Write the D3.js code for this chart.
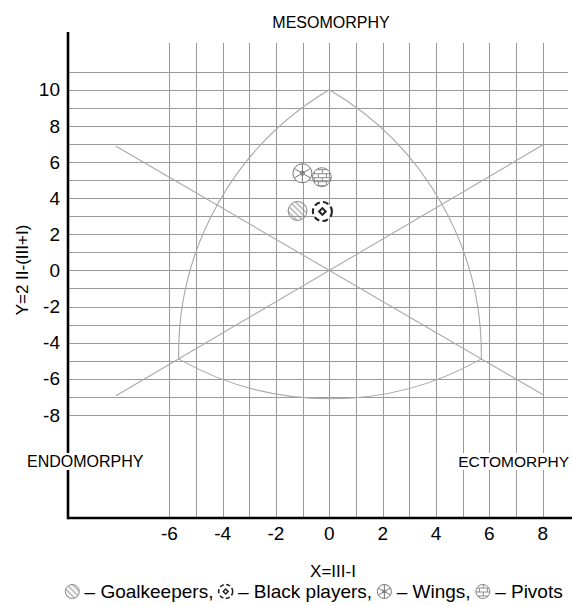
<!DOCTYPE html>
<html>
<head>
<meta charset="utf-8">
<script src="https://cdn.jsdelivr.net/npm/d3@7"></script>
<style>
  body { margin: 0; background: #fff; }
  svg { display: block; font-family: "Liberation Sans", Arial, sans-serif; }
</style>
</head>
<body>
<div id="chart"></div>
<script>
// Data
const groups = ["Goalkeepers", "Black players", "Wings", "Pivots"];
const xValues = [-1.19, -0.26, -1.01, -0.28];
const yValues = [3.29, 3.26, 5.38, 5.16];
const xTickLabels = [-6, -4, -2, 0, 2, 4, 6, 8];
const yTickLabels = [10, 8, 6, 4, 2, 0, -2, -4, -6, -8];
const apex = [0, 10];
const endoVertex = [-5.65, -4.9];
const ectoVertex = [5.7, -4.9];

// Configuration
const W = 572, H = 606;
const x = d3.scaleLinear().domain([-9.8, 9.1]).range([68, 572]);
const y = d3.scaleLinear().domain([-13.71, 13.2]).range([518, 32]);
const gridColor = "#9a9a9a";
const lineColor = "#a8a8a8";

const svg = d3.select("#chart").append("svg")
    .attr("width", W)
    .attr("height", H);

// Patterns for the markers
const defs = svg.append("defs");
defs.append("pattern")
    .attr("id", "hatch")
    .attr("patternUnits", "userSpaceOnUse")
    .attr("width", 4).attr("height", 4)
    .attr("patternTransform", "rotate(-45)")
    .append("line")
    .attr("x1", 1).attr("y1", 0).attr("x2", 1).attr("y2", 4)
    .attr("stroke", "#8a8a8a").attr("stroke-width", 1);

const brick = defs.append("pattern")
    .attr("id", "brick")
    .attr("patternUnits", "userSpaceOnUse")
    .attr("width", 8).attr("height", 8);
brick.append("path")
    .attr("d", "M0,0.5H8M0,4.5H8M0.5,0.5V4.5M4.5,4.5V8")
    .attr("stroke", "#8a8a8a").attr("stroke-width", 1).attr("fill", "none");

// Grid
const grid = svg.append("g").attr("stroke", gridColor).attr("stroke-width", 1);
grid.selectAll(".vgrid")
    .data(d3.range(-6, 9))
    .join("line")
    .attr("class", "vgrid")
    .attr("x1", d => Math.round(x(d)) + 0.5).attr("x2", d => Math.round(x(d)) + 0.5)
    .attr("y1", y(12.6)).attr("y2", y(-13.71));
grid.selectAll(".hgrid")
    .data(d3.range(-8, 12))
    .join("line")
    .attr("class", "hgrid")
    .attr("y1", d => Math.round(y(d)) + 0.5).attr("y2", d => Math.round(y(d)) + 0.5)
    .attr("x1", x(-9.8)).attr("x2", x(8.95));

// Somatochart outline (Reuleaux-like triangle) and guide lines
const pA = [x(apex[0]), y(apex[1])];
const pL = [x(endoVertex[0]), y(endoVertex[1])];
const pR = [x(ectoVertex[0]), y(ectoVertex[1])];
const dist = (a, b) => Math.hypot(a[0] - b[0], a[1] - b[1]);
const r = (dist(pA, pL) + dist(pA, pR) + dist(pL, pR)) / 3;
const outline = svg.append("g").attr("fill", "none").attr("stroke", lineColor).attr("stroke-width", 1.1);
outline.append("path")
    .attr("d", `M${pA}A${r},${r} 0 0 0 ${pL}A${r},${r} 0 0 0 ${pR}A${r},${r} 0 0 0 ${pA}`);

[endoVertex, ectoVertex].forEach(v => {
    const slope = v[1] / v[0];
    outline.append("line")
        .attr("x1", x(-8)).attr("y1", y(-8 * slope))
        .attr("x2", x(8)).attr("y2", y(8 * slope));
});

// Axes
svg.append("line")
    .attr("x1", x(-9.8)).attr("x2", W)
    .attr("y1", y(-13.71)).attr("y2", y(-13.71))
    .attr("stroke", "#000").attr("stroke-width", 2.6);
svg.append("line")
    .attr("x1", x(-9.8)).attr("x2", x(-9.8))
    .attr("y1", y(13.2)).attr("y2", y(-13.71) + 1.3)
    .attr("stroke", "#000").attr("stroke-width", 2.6);

svg.selectAll(".xtick")
    .data(xTickLabels)
    .join("text")
    .attr("class", "xtick")
    .attr("x", d => x(d))
    .attr("y", 540)
    .attr("text-anchor", "middle")
    .attr("font-size", 19)
    .text(d => d);

svg.selectAll(".ytick")
    .data(yTickLabels)
    .join("text")
    .attr("class", "ytick")
    .attr("x", 60)
    .attr("y", d => y(d))
    .attr("dy", "0.35em")
    .attr("text-anchor", "end")
    .attr("font-size", 19)
    .text(d => d);

// Corner labels with white background
function boxedLabel(text, tx, ty, anchor, size) {
    const t = svg.append("text")
        .attr("x", tx).attr("y", ty)
        .attr("text-anchor", anchor)
        .attr("font-size", size)
        .text(text);
    const b = t.node().getBBox();
    svg.insert("rect", function() { return t.node(); })
        .attr("x", b.x - 2).attr("y", b.y).attr("width", b.width + 4).attr("height", b.height)
        .attr("fill", "#fff");
}
boxedLabel("MESOMORPHY", 331, 28, "middle", 16);
boxedLabel("ENDOMORPHY", 27, 467, "start", 16);
boxedLabel("ECTOMORPHY", 569, 467, "end", 15.5);

svg.append("text")
    .attr("transform", "translate(28,270) rotate(-90)")
    .attr("text-anchor", "middle")
    .attr("font-size", 17)
    .text("Y=2 II-(III+I)");

svg.append("text")
    .attr("x", 333).attr("y", 577)
    .attr("text-anchor", "middle")
    .attr("font-size", 17)
    .text("X=III-I");

// Marker drawing
const drawMarker = {
    "Goalkeepers": (g, rr) => {
        g.append("circle").attr("r", rr).attr("fill", "url(#hatch)")
            .attr("stroke", "#8a8a8a").attr("stroke-width", 1);
    },
    "Black players": (g, rr) => {
        g.append("circle").attr("r", rr).attr("fill", "#fff")
            .attr("stroke", "#222").attr("stroke-width", rr * 0.22)
            .attr("stroke-dasharray", `${rr * 0.6},${rr * 0.35}`);
        const s = rr * 0.5;
        g.append("path").attr("d", `M0,${-s}L${s},0L0,${s}L${-s},0Z`).attr("fill", "#222");
        const s2 = rr * 0.2;
        g.append("path").attr("d", `M0,${-s2}L${s2},0L0,${s2}L${-s2},0Z`).attr("fill", "#fff");
    },
    "Wings": (g, rr) => {
        g.append("circle").attr("r", rr).attr("fill", "#fff")
            .attr("stroke", "#777").attr("stroke-width", 1);
        [90, 30, 150].forEach(a => {
            const dx = rr * Math.cos(a * Math.PI / 180), dy = rr * Math.sin(a * Math.PI / 180);
            g.append("line").attr("x1", -dx).attr("y1", -dy).attr("x2", dx).attr("y2", dy)
                .attr("stroke", "#777").attr("stroke-width", 1);
        });
        g.append("circle").attr("r", rr * 0.22).attr("fill", "none")
            .attr("stroke", "#777").attr("stroke-width", 1);
    },
    "Pivots": (g, rr) => {
        g.append("circle").attr("r", rr).attr("fill", "url(#brick)")
            .attr("stroke", "#888").attr("stroke-width", 1);
    }
};

svg.selectAll(".marker")
    .data(groups)
    .join("g")
    .attr("class", "marker")
    .attr("transform", (d, i) => `translate(${x(xValues[i])},${y(yValues[i])})`)
    .each(function(d) { drawMarker[d](d3.select(this), 9.5); });

// Legend
const legendItems = [];
groups.forEach((gname, i) => {
    legendItems.push({ glyph: gname });
    legendItems.push({ text: " \u2013 " + gname + (i < groups.length - 1 ? ", " : "") });
});
const legend = svg.append("g");
const glyphR = 7;
let cursor = 0;
legendItems.forEach(it => {
    if (it.glyph) {
        const g = legend.append("g").attr("transform", `translate(${cursor + glyphR},-6.5)`);
        drawMarker[it.glyph](g, glyphR);
        cursor += glyphR * 2;
    } else {
        const t = legend.append("text").attr("x", cursor).attr("y", 0)
            .attr("font-size", 19).attr("xml:space", "preserve")
            .style("white-space", "pre")
            .text(it.text);
        cursor += t.node().getComputedTextLength();
    }
});
legend.attr("transform", `translate(${314 - cursor / 2},598)`);
</script>
</body>
</html>
